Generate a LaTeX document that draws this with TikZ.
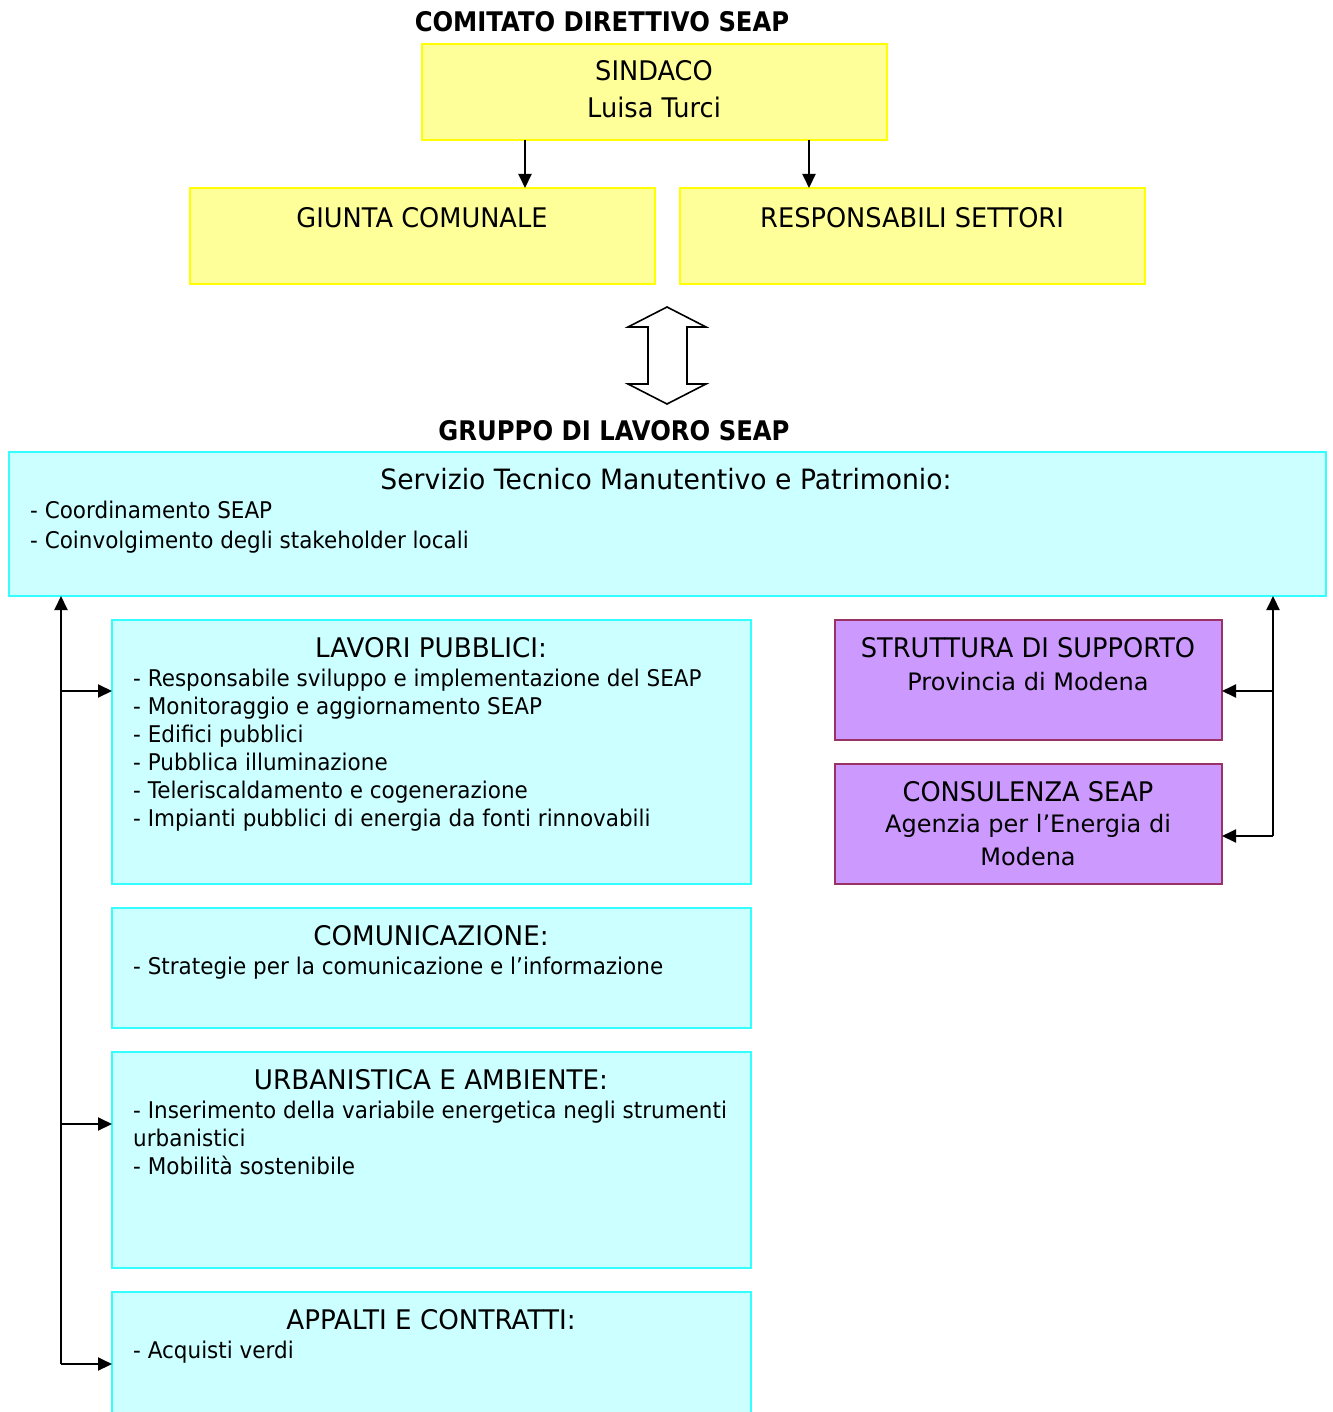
\documentclass[tikz,border=0pt]{standalone}
\usepackage{fontspec}
\setmainfont[FakeStretch=0.95]{DejaVu Sans}
\newfontfamily\headfont[FakeStretch=0.9]{DejaVu Sans}
\newfontfamily\itemfont[FakeStretch=0.935]{DejaVu Sans}
\newfontfamily\subfont[FakeStretch=1.0]{DejaVu Sans}
\newfontfamily\narrowfont[FakeStretch=0.97]{DejaVu Sans}
\usetikzlibrary{arrows.meta}
\definecolor{yfill}{HTML}{FFFF99}
\definecolor{yline}{HTML}{FFFF00}
\definecolor{cfill}{HTML}{CCFFFF}
\definecolor{cline}{HTML}{33FFFF}
\definecolor{pfill}{HTML}{CC99FF}
\definecolor{pline}{HTML}{993366}
\tikzset{
  box/.style={draw, line width=2pt, inner sep=0pt, outer sep=0pt, anchor=north west},
  ybox/.style={box, draw=yline, fill=yfill},
  cbox/.style={box, draw=cline, fill=cfill},
  pbox/.style={box, draw=pline, fill=pfill},
  head/.style={anchor=base, inner sep=0pt, font=\fontsize{27}{32}\headfont\bfseries},
  ttl/.style={anchor=base, inner sep=0pt, font=\fontsize{27}{32}\selectfont},
  sub/.style={anchor=base, inner sep=0pt, font=\fontsize{24}{28}\subfont},
  item/.style={anchor=base west, inner sep=0pt, font=\fontsize{23}{28}\itemfont},
  nttl/.style={anchor=base, inner sep=0pt, font=\fontsize{27}{32}\narrowfont},
  arr/.style={line width=2pt, -{Triangle[length=14pt,width=13pt]}},
}
\begin{document}
\begin{tikzpicture}[x=1pt,y=-1pt]
\useasboundingbox (0,0) rectangle (1332,1412);
\clip (0,0) rectangle (1332,1412);

% --- top: comitato direttivo
\node[head] (hcom) at (602,32) {COMITATO DIRETTIVO SEAP};
\node[ybox, minimum width=465pt, minimum height=96pt] (sind) at (422,44) {};
\node[ttl] (sindt) at (654,81) {SINDACO};
\node[ttl] (sindn) at (654,118) {Luisa Turci};
\node[ybox, minimum width=465pt, minimum height=96pt] (giunta) at (190,188) {};
\node[ttl] (giuntat) at (422,228) {GIUNTA COMUNALE};
\node[ybox, minimum width=465pt, minimum height=96pt] (resp) at (680,188) {};
\node[ttl] (respt) at (912,228) {RESPONSABILI SETTORI};
\draw[arr] (525,0 |- sind.south) -- (525,0 |- giunta.north);
\draw[arr] (809,0 |- sind.south) -- (809,0 |- resp.north);

% --- double block arrow
\draw[line width=1.6pt, fill=white, line join=miter]
  (667,307) -- (706,327) -- (687,327) -- (687,384) -- (706,384) -- (667,404)
  -- (628,384) -- (648,384) -- (648,327) -- (628,327) -- cycle;

% --- gruppo di lavoro
\node[head] (hgru) at (614,440) {GRUPPO DI LAVORO SEAP};
\node[cbox, minimum width=1317pt, minimum height=144pt] (serv) at (9,452) {};
\node[ttl, font=\fontsize{28}{32}\selectfont] (servt) at (666,489) {Servizio Tecnico Manutentivo e Patrimonio:};
\node[item] (serv1) at (30,518) {- Coordinamento SEAP};
\node[item] (serv2) at (30,548) {- Coinvolgimento degli stakeholder locali};

% lavori pubblici
\node[cbox, minimum width=639pt, minimum height=264pt] (lav) at (112,620) {};
\node[nttl] (lavt) at (431,657) {LAVORI PUBBLICI:};
\node[item] (lav1) at (133,686) {- Responsabile sviluppo e implementazione del SEAP};
\node[item] (lav2) at (133,714) {- Monitoraggio e aggiornamento SEAP};
\node[item] (lav3) at (133,742) {- Edifici pubblici};
\node[item] (lav4) at (133,770) {- Pubblica illuminazione};
\node[item] (lav5) at (133,798) {- Teleriscaldamento e cogenerazione};
\node[item] (lav6) at (133,826) {- Impianti pubblici di energia da fonti rinnovabili};

% comunicazione
\node[cbox, minimum width=639pt, minimum height=120pt] (com) at (112,908) {};
\node[nttl] (comt) at (431,945) {COMUNICAZIONE:};
\node[item] (com1) at (133,974) {- Strategie per la comunicazione e l’informazione};

% urbanistica
\node[cbox, minimum width=639pt, minimum height=216pt] (urb) at (112,1052) {};
\node[nttl] (urbt) at (431,1089) {URBANISTICA E AMBIENTE:};
\node[item] (urb1) at (133,1118) {- Inserimento della variabile energetica negli strumenti};
\node[item] (urb2) at (133,1146) {urbanistici};
\node[item] (urb3) at (133,1174) {- Mobilità sostenibile};

% appalti
\node[cbox, minimum width=639pt, minimum height=160pt] (app) at (112,1292) {};
\node[nttl] (appt) at (431,1329) {APPALTI E CONTRATTI:};
\node[item] (app1) at (133,1358) {- Acquisti verdi};

% purple boxes
\node[pbox, minimum width=387pt, minimum height=120pt] (str) at (835,620) {};
\node[ttl] (strt) at (1028,657) {STRUTTURA DI SUPPORTO};
\node[sub] (strs) at (1028,690) {Provincia di Modena};
\node[pbox, minimum width=387pt, minimum height=120pt] (cons) at (835,764) {};
\node[ttl] (const) at (1028,801) {CONSULENZA SEAP};
\node[sub] (cons1) at (1028,832) {Agenzia per l’Energia di};
\node[sub] (cons2) at (1028,865) {Modena};

% left bus
\coordinate (lbot) at (61,1364);
\draw[arr] (lbot) -- (61,0 |- serv.south);
\draw[arr] (61,691) -- (lav.west |- 0,691);
\draw[arr] (61,1124) -- (urb.west |- 0,1124);
\draw[arr] (lbot) -- (app.west |- lbot);

% right bus
\coordinate (rbot) at (1273,836);
\draw[arr] (rbot) -- (1273,0 |- serv.south);
\draw[arr] (1273,691) -- (str.east |- 0,691);
\draw[arr] (rbot) -- (cons.east |- rbot);
\end{tikzpicture}
\end{document}
